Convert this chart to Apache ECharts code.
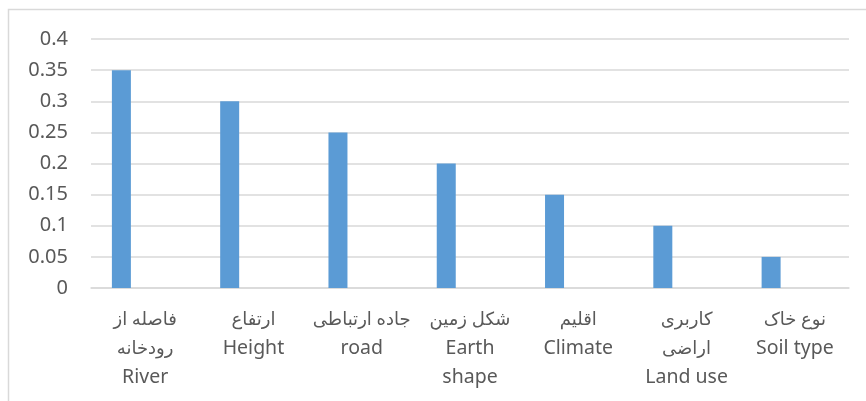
<!DOCTYPE html>
<html>
<head>
<meta charset="utf-8">
<script src="https://cdn.jsdelivr.net/npm/echarts@6/dist/echarts.min.js"></script>
<style>
html,body{margin:0;padding:0;background:#fff;}
#c{width:866px;height:401px;}
</style>
</head>
<body>
<div id="c"></div>
<script>
var categories = [
  "فاصله از\nرودخانه\nRiver",
  "ارتفاع\nHeight",
  "جاده ارتباطی\nroad",
  "شکل زمین\nEarth\nshape",
  "اقلیم\nClimate",
  "کاربری\nاراضی\nLand use",
  "نوع خاک\nSoil type"
];
var values = [0.35, 0.3, 0.25, 0.2, 0.15, 0.1, 0.05];
var emptySeries = [null, null, null, null, null, null, null];

var FONT = "'Noto Sans', 'DejaVu Sans', sans-serif";
var chart = echarts.init(document.getElementById('c'), null, {renderer: 'canvas'});
chart.setOption({
  animation: false,
  backgroundColor: '#ffffff',
  graphic: [{
    type: 'rect',
    shape: {x: 8.5, y: 9.5, width: 870, height: 400},
    style: {fill: 'none', stroke: '#d9d9d9', lineWidth: 1.5},
    silent: true
  }],
  grid: {left: 91, right: 17, top: 39, bottom: 113},
  xAxis: {
    type: 'category',
    data: categories,
    axisLine: {show: true, lineStyle: {color: '#d9d9d9', width: 1.5}},
    axisTick: {show: false},
    axisLabel: {
      interval: 0,
      color: '#595959',
      fontFamily: FONT,
      fontSize: 19,
      lineHeight: 29,
      margin: 17,
      verticalAlign: 'top',
      formatter: function (v) {
        return v.split('\n').map(function (line) {
          return /[\u0600-\u06FF]/.test(line) ? '{fa|' + line + '}' : '{en|' + line + '}';
        }).join('\n');
      },
      rich: {
        fa: {fontFamily: FONT, fontSize: 18, lineHeight: 29, color: '#595959'},
        en: {fontFamily: FONT, fontSize: 19.5, lineHeight: 29, color: '#595959'}
      }
    }
  },
  yAxis: {
    type: 'value',
    min: 0,
    max: 0.4,
    interval: 0.05,
    axisLine: {show: false},
    axisTick: {show: false},
    splitLine: {lineStyle: {color: '#d9d9d9', width: 1.5}},
    axisLabel: {
      color: '#595959',
      fontFamily: FONT,
      fontSize: 20,
      margin: 23,
      formatter: function (v) { return String(+v.toFixed(2)); }
    }
  },
  series: [
    {type: 'bar', data: values, barWidth: 19, barGap: '150%', itemStyle: {color: '#5b9bd5'}},
    {type: 'bar', data: emptySeries, barWidth: 19, itemStyle: {color: '#ed7d31'}}
  ]
});
</script>
</body>
</html>
